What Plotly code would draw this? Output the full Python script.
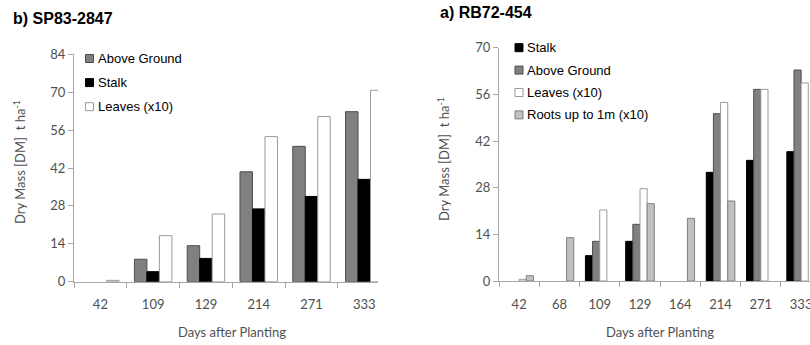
import plotly.graph_objects as go

# ---- Data: b) SP83-2847 (left panel) ----
days_sp = ["42", "109", "129", "214", "271", "333"]
sp_above_ground = [0, 8.3, 13.3, 40.6, 50.0, 62.8]
sp_stalk = [0, 3.7, 8.6, 26.9, 31.5, 37.8]
sp_leaves_x10 = [0.5, 17.0, 25.0, 53.6, 61.0, 70.7]

# ---- Data: a) RB72-454 (right panel) ----
days_rb = ["42", "68", "109", "129", "164", "214", "271", "333"]
rb_stalk = [0, 0, 7.6, 11.9, 0, 32.6, 36.2, 38.8]
rb_above_ground = [0, 0, 11.9, 17.0, 0, 50.2, 57.5, 63.3]
rb_leaves_x10 = [0.5, 0, 21.3, 27.7, 0, 53.6, 57.5, 59.4]
rb_roots_x10 = [1.6, 13.0, 0, 23.2, 18.8, 24.0, 0, 0]

yticks_sp = [0, 14, 28, 42, 56, 70, 84]
yticks_rb = [0, 14, 28, 42, 56, 70]

W, H = 810, 345
FONT = "Lato"
TICKC = "#505050"
AXC = "#a6a6a6"

AG_STYLE = dict(color="#808080", line=dict(color="#4d4d4d", width=1))
STALK_STYLE = dict(color="#000000", line=dict(color="#000000", width=1))
LEAF_STYLE = dict(color="#ffffff", line=dict(color="#9a9a9a", width=1))
ROOT_STYLE = dict(color="#c0c0c0", line=dict(color="#808080", width=1))


def nz(vals):
    # zero-height bars are not drawn in the reference
    return [v if v > 0 else None for v in vals]


left_series = [("Above Ground", sp_above_ground, AG_STYLE),
               ("Stalk", sp_stalk, STALK_STYLE),
               ("Leaves (x10)", sp_leaves_x10, LEAF_STYLE)]
right_series = [("Stalk", rb_stalk, STALK_STYLE),
                ("Above Ground", rb_above_ground, AG_STYLE),
                ("Leaves (x10)", rb_leaves_x10, LEAF_STYLE),
                ("Roots up to 1m (x10)", rb_roots_x10, ROOT_STYLE)]

fig = go.Figure()
for name, vals, st in left_series:
    fig.add_trace(go.Bar(x=days_sp, y=nz(vals), name=name, marker=st,
                         xaxis="x", yaxis="y", showlegend=False))
for name, vals, st in right_series:
    fig.add_trace(go.Bar(x=days_rb, y=nz(vals), name=name, marker=st,
                         xaxis="x2", yaxis="y2", showlegend=False))


def px_x(v):
    return v / W


def px_y(v):
    return 1 - v / H


xaxis_common = dict(
    type="category", showline=True, linecolor=AXC, linewidth=1,
    ticks="outside", ticklen=5, tickcolor=AXC, tickson="boundaries",
    tickfont=dict(family=FONT, size=13, color=TICKC), showgrid=False,
    zeroline=False, ticklabelstandoff=11, fixedrange=True, automargin=False,
)
yaxis_common = dict(
    showline=True, linecolor=AXC, linewidth=1, ticks="outside", ticklen=5,
    tickcolor=AXC, tickfont=dict(family=FONT, size=13, color=TICKC),
    showgrid=False, zeroline=False, fixedrange=True, automargin=False,
)

fig.update_layout(
    width=W, height=H, margin=dict(l=0, r=0, t=0, b=0, autoexpand=False),
    paper_bgcolor="white", plot_bgcolor="white",
    barmode="group", bargap=0.29, bargroupgap=0,
    showlegend=False,
    xaxis=dict(xaxis_common, domain=[px_x(74), px_x(378)], range=[-0.5, 5.26], anchor="y"),
    yaxis=dict(yaxis_common, domain=[px_y(281.7), px_y(54.3)], range=[0, 84],
               tickvals=yticks_sp, anchor="x"),
    xaxis2=dict(xaxis_common, domain=[px_x(499), 1.0], range=[-0.5, 7.22], anchor="y2"),
    yaxis2=dict(yaxis_common, domain=[px_y(281), px_y(47.7)], range=[0, 70],
                tickvals=yticks_rb, anchor="x2"),
)

# ---- legends (key squares + labels) built from the series lists ----
leg_font = dict(family="Liberation Sans", size=13, color="#000000")


def add_legend(series, x0, y0, dy):
    for i, (name, _vals, st) in enumerate(series):
        yc = y0 + i * dy
        fig.add_shape(type="rect", xref="paper", yref="paper",
                      x0=px_x(x0), x1=px_x(x0 + 8), y0=px_y(yc + 4), y1=px_y(yc - 4),
                      fillcolor=st["color"], line=dict(color=st["line"]["color"], width=1))
        fig.add_annotation(text=name, x=px_x(x0 + 10), y=px_y(yc), xref="paper", yref="paper",
                           xanchor="left", yanchor="middle", showarrow=False, font=leg_font)


add_legend(left_series, 85.5, 58.5, 24.1)
add_legend(right_series, 515, 47.7, 22.4)

ann_font = dict(family=FONT, size=13, color=TICKC)
title_font = dict(family="Liberation Sans", size=16, color="#000000")
fig.add_annotation(text="<b>b) SP83-2847</b>", x=px_x(11), y=px_y(19), xref="paper", yref="paper",
                   xanchor="left", yanchor="middle", showarrow=False, font=title_font)
fig.add_annotation(text="<b>a) RB72-454</b>", x=px_x(438), y=px_y(12.5), xref="paper", yref="paper",
                   xanchor="left", yanchor="middle", showarrow=False, font=title_font)
fig.add_annotation(text="Days after Planting", x=px_x(232), y=px_y(332), xref="paper", yref="paper",
                   xanchor="center", yanchor="middle", showarrow=False, font=ann_font)
fig.add_annotation(text="Days after Planting", x=px_x(660), y=px_y(332), xref="paper", yref="paper",
                   xanchor="center", yanchor="middle", showarrow=False, font=ann_font)
fig.add_annotation(text="Dry Mass [DM]  t ha<sup>-1</sup>", x=px_x(20), y=px_y(162), xref="paper",
                   yref="paper", xanchor="center", yanchor="middle", showarrow=False,
                   textangle=-90, font=ann_font)
fig.add_annotation(text="Dry Mass [DM]  t ha<sup>-1</sup>", x=px_x(443), y=px_y(159), xref="paper",
                   yref="paper", xanchor="center", yanchor="middle", showarrow=False,
                   textangle=-90, font=ann_font)

# remove the default page margin so the figure fills the window exactly
fig.write_html("out.html", config={"displayModeBar": False},
               post_script="document.body.style.margin='0';")
